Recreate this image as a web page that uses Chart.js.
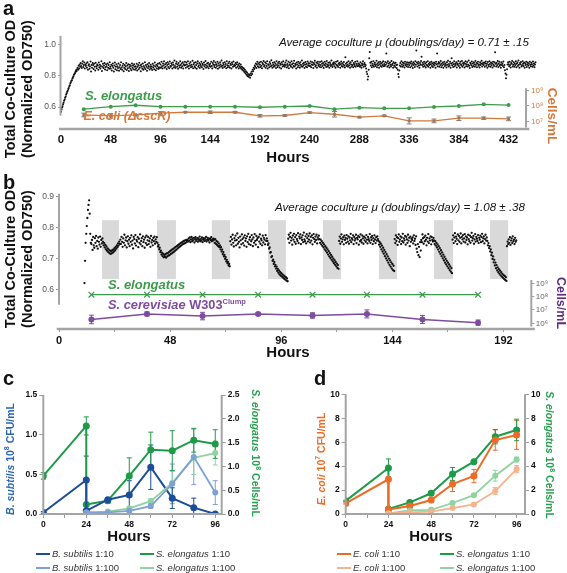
<!DOCTYPE html>
<html><head><meta charset="utf-8">
<script src="https://cdn.jsdelivr.net/npm/chart.js@4.4.1/dist/chart.umd.min.js"></script>
<style>
html,body{margin:0;padding:0;background:#fff;}
#wrap{position:relative;width:567px;height:573px;overflow:hidden;font-family:"Liberation Sans",Arial,Helvetica,sans-serif;color:#111;}
#wrap canvas{position:absolute;left:0;top:0;}
.t{position:absolute;white-space:nowrap;line-height:1;}
.rot{position:absolute;white-space:nowrap;text-align:center;font-weight:bold;}
.lgt{position:absolute;white-space:nowrap;font-size:9.5px;line-height:11px;color:#333;}
.sw{position:absolute;width:14px;height:2px;}
</style></head>
<body><div id="wrap">
<canvas id="cA1" width="567" height="573"></canvas>
<canvas id="cA2" width="567" height="573"></canvas>
<canvas id="cB1" width="567" height="573"></canvas>
<canvas id="cB2" width="567" height="573"></canvas>
<canvas id="cC" width="567" height="573"></canvas>
<canvas id="cD" width="567" height="573"></canvas>

<div class="t" style="left:3px;top:-2px;font-size:20px;font-weight:bold;">a</div>
<div class="t" style="left:3px;top:171.5px;font-size:20px;font-weight:bold;">b</div>
<div class="t" style="left:3px;top:368px;font-size:20px;font-weight:bold;">c</div>
<div class="t" style="left:314px;top:368px;font-size:20px;font-weight:bold;">d</div>

<div class="t" style="left:279px;top:36.2px;font-size:11.6px;font-style:italic;">Average coculture μ (doublings/day) = 0.71 ± .15</div>
<div class="t" style="left:275px;top:201.2px;font-size:11.6px;font-style:italic;">Average coculture μ (doublings/day) = 1.08 ± .38</div>

<div class="t" style="left:85px;top:88.5px;font-size:13px;font-style:italic;font-weight:bold;color:#3d9d4b;">S. elongatus</div>
<div class="t" style="left:83.5px;top:109.9px;font-size:12.5px;font-style:italic;font-weight:bold;color:#d4783b;">E. coli (ΔcscR)</div>
<div class="t" style="left:108px;top:277.5px;font-size:13px;font-style:italic;font-weight:bold;color:#3c9c4c;">S. elongatus</div>
<div class="t" style="left:108px;top:298.9px;font-size:12.8px;font-style:italic;font-weight:bold;color:#7e4c9f;">S. cerevisiae <span style="font-style:normal">W303</span><span style="font-style:normal;font-size:7.5px;position:relative;top:-5px;">Clump</span></div>

<div class="t" style="left:288px;top:148.8px;font-size:15px;font-weight:bold;transform:translateX(-50%);">Hours</div>
<div class="t" style="left:288px;top:343.8px;font-size:15px;font-weight:bold;transform:translateX(-50%);">Hours</div>
<div class="t" style="left:129px;top:528.3px;font-size:15px;font-weight:bold;transform:translateX(-50%);">Hours</div>
<div class="t" style="left:431px;top:528.3px;font-size:15px;font-weight:bold;transform:translateX(-50%);">Hours</div>

<div class="rot" style="left:18.5px;top:88.5px;transform:translate(-50%,-50%) rotate(-90deg);font-size:14.5px;line-height:17px;">Total Co-Culture OD<br>(Normalized OD750)</div>
<div class="rot" style="left:18.5px;top:258.5px;transform:translate(-50%,-50%) rotate(-90deg);font-size:14.5px;line-height:17px;">Total Co-Culture OD<br>(Normalized OD750)</div>
<div class="rot" style="left:551.5px;top:115.5px;transform:translate(-50%,-50%) rotate(90deg);font-size:13.5px;line-height:14px;color:#d4783b;">Cells/mL</div>
<div class="rot" style="left:560px;top:303px;transform:translate(-50%,-50%) rotate(90deg);font-size:12.5px;line-height:13px;color:#5b2d83;">Cells/mL</div>

<div class="rot" style="left:10px;top:459px;transform:translate(-50%,-50%) rotate(-90deg);font-size:10.5px;line-height:11px;color:#2b66b3;"><i>B. subtilis</i> 10<sup style="font-size:7px;line-height:0;">8</sup> CFU/mL</div>
<div class="rot" style="left:255px;top:453px;transform:translate(-50%,-50%) rotate(90deg);font-size:10.5px;line-height:11px;color:#27a04f;"><i>S. elongatus</i> 10<sup style="font-size:7px;line-height:0;">8</sup> Cells/mL</div>
<div class="rot" style="left:321px;top:458.5px;transform:translate(-50%,-50%) rotate(-90deg);font-size:10.5px;line-height:11px;color:#ec6b26;"><i>E. coli</i> 10<sup style="font-size:7px;line-height:0;">7</sup> CFU/mL</div>
<div class="rot" style="left:548.5px;top:455px;transform:translate(-50%,-50%) rotate(90deg);font-size:10.5px;line-height:11px;color:#27a04f;"><i>S. elongatus</i> 10<sup style="font-size:7px;line-height:0;">8</sup> Cells/mL</div>
</div>
<script>
// ===================== DATA =====================
// Panel a: co-culture OD750 (x1000); one row per day (24 h), readings every 0.5 h
const odStepA = 0.5, hoursPerRowA = 24;
const odA = [
[570,585,598,606,618,628,640,648,660,668,680,688,698,705,715,722,733,740,752,758,768,772,783,789,797,806,812,818,826,835,829,842,851,838,864,847,872,858,881,862,849,877,893,856,868,884,846,871],
[862,879,851,887,838,866,873,845,859,891,827,868,852,881,869,843,876,857,834,883,861,848,872,866,839,885,854,871,846,862,893,831,858,877,849,866,882,840,855,873,861,836,879,852,868,845,887,858],
[846,871,833,862,879,851,828,866,884,842,857,873,836,861,849,878,832,855,869,844,887,853,838,864,876,829,851,868,843,859,882,837,865,848,874,831,856,870,845,862,835,878,852,866,841,873,857,839],
[861,848,876,834,858,869,842,883,851,866,829,872,857,845,879,838,863,851,886,844,868,857,832,874,849,863,881,840,856,871,846,859,837,877,853,866,842,884,859,835,870,848,862,876,843,855,881,850],
[872,853,889,861,846,878,866,893,851,874,858,882,843,869,887,856,875,848,891,863,857,880,868,846,884,871,855,897,862,849,876,889,858,872,845,881,866,854,893,869,852,878,861,886,847,873,865,890],
[868,851,884,872,857,893,863,846,879,866,888,854,871,859,896,848,874,883,861,852,887,869,845,878,892,858,866,881,849,873,862,889,855,877,868,844,885,859,871,894,852,866,879,857,883,848,870,862],
[876,858,889,863,847,882,871,895,856,868,884,851,873,862,890,845,879,866,853,887,872,859,898,864,849,881,870,856,886,861,875,848,892,867,854,880,863,889,851,877,869,846,884,873,858,891,862,870],
[864,881,852,873,887,858,869,846,878,861,853,872,845,858,839,851,832,846,824,838,816,829,807,821,798,812,793,806,801,788,814,803,826,812,838,829,851,843,866,857,878,849,872,889,861,876,853,884],
[871,856,889,864,848,882,873,895,859,867,886,851,878,863,892,847,874,869,855,888,876,861,899,866,852,883,871,858,887,864,877,849,893,868,856,881,865,890,853,879,870,847,886,874,860,893,864,872],
[858,884,869,897,853,875,862,889,848,871,883,866,857,892,874,851,880,863,896,859,877,868,846,885,872,855,890,864,879,852,887,870,861,898,857,876,866,883,849,872,888,860,875,854,891,867,880,862],
[879,863,891,855,872,886,868,849,882,874,896,859,867,884,852,878,890,864,873,857,888,869,854,893,877,862,881,850,870,889,865,878,856,894,871,860,883,867,852,887,875,863,898,869,856,880,872,886],
[861,877,852,889,870,864,895,856,879,868,883,851,874,891,862,880,857,872,888,866,853,918,876,862,884,870,857,893,866,879,851,887,872,860,896,868,855,881,874,863,889,857,876,868,892,861,878,866],
[873,858,886,866,851,879,868,893,857,874,882,861,869,847,826,812,776,795,838,912,952,883,866,889,854,877,865,892,858,874,883,862,871,896,855,879,867,886,852,874,889,863,878,857,884,869,893,861],
[875,862,888,870,943,881,857,892,866,879,853,884,871,859,895,868,876,851,887,864,879,856,883,868,849,871,838,812,792,834,866,881,859,893,872,857,885,866,878,853,890,869,875,861,887,872,856,883],
[868,884,855,879,891,862,875,850,887,869,878,856,893,871,962,884,859,876,889,865,852,881,870,895,921,868,883,857,874,890,862,879,853,886,871,864,893,858,877,869,885,851,874,889,863,880,856,872],
[884,866,879,852,890,873,942,861,876,888,858,882,869,894,855,877,866,885,851,873,890,862,879,868,853,887,871,896,859,875,864,889,852,878,912,867,883,856,874,892,861,877,868,886,853,879,871,894],
[862,878,851,889,873,866,895,857,880,869,884,853,876,892,861,874,888,859,871,897,864,850,883,876,867,891,856,879,862,886,873,858,894,869,881,855,877,890,864,872,853,887,868,879,896,860,875,883],
[869,885,857,878,891,864,876,852,888,870,861,893,875,858,884,867,879,853,890,872,863,887,951,876,859,882,868,895,856,877,889,864,872,851,886,869,878,862,891,854,868,836,815,784,806,842,872,887],
[874,861,889,868,853,882,877,894,860,871,886,857,879,869,892,855,876,884,863,897,870,852,881,874,888,859,867,893,876,862,884,851,879,868,890,856,873,885,864,877,852,889,870,861,883,874,858,891,866,879,854,872,887]
];
const xTicksA = [0,48,96,144,192,240,288,336,384,432];
const yTicksA = [0.6,0.8,1.0];
const yLabelsA = ['0.6','0.8','1.0'];
const cellHoursA = [22,48,72,96,120,144,168,192,216,240,264,288,312,336,360,384,408,432];
const selA   = [6.2e7,9.1e7,1.12e8,9.1e7,9.1e7,9.1e7,9.1e7,8.3e7,9.1e7,1.0e8,6.2e7,7.8e7,7.1e7,7.1e7,8.7e7,1.0e8,1.29e8,1.15e8];
const ecoliA = [2.6e7,2.3e7,2.6e7,3.4e7,3.9e7,3.9e7,3.9e7,2.3e7,2.4e7,3.7e7,2.9e7,1.86e7,2.3e7,1.07e7,1.07e7,1.6e7,1.6e7,1.45e7];
const ecoliErrA = [0.12,0.15,0.05,0.10,0.03,0.08,0.05,0.08,0.05,0.05,0.18,0.05,0.03,0.20,0.12,0.15,0.08,0.12]; // decades
const cellTicksA = [1e7,1e8,1e9];
const cellLabelsA = ['10⁷','10⁸','10⁹'];

// Panel b: co-culture OD750 (x1000); segments [start hour, readings every 0.25 h]
const odStepB = 0.25;
const odB = [
[11,[622,694,752,781,806,832,858,874,889,846,781,752]],
[14,[748,761,729,771,744,736,767,752,774,741,758,733,769,755,746,772,739,761,750,766]],
[19,[755,744,751,737,745,731,740,726,734,722,730,719,727,716,725,718,728,720,731,724,735,728,739,733,744,738,750,743,756,749]],
[26.5,[762,748,771,755,739,766,752,778,744,760,769,737,757,773,749,762,741,768,755,776,746,759,734,771,764,750,777,743,761,756,770,738,765,752,779,747,758,767,741,773,754,762,736,769,751,775,745,760,771,748,757,766,739,774,753,761,744,768,757,772,749,763,755,770]],
[42.5,[752,740,745,731,736,722,727,714,720,709,716,705,713,707,715,704,718,708,719,711,722,712,725,716,728,718,731,721,733,724,736,727,739,730,742,734,745,737,748,740,751,743,753,746,756,749,758,750,760,752,761,755]],
[55.5,[761,756,766,759,769,754,763,771,757,765,760,768,753,764,770,758,762,767,755,766,761,772,757,764,759,769,754,763,767,758,765,760,771,756,762,768,759,764,753,766,761,770,757,763,759,765]],
[67,[762,752,764,749,758,745,755,741,750,738,744,731,738,724,730,715,722,708,713,700,706,692,697,686,690,679,684,676]],
[74,[757,771,746,763,778,752,740,767,759,775,744,761,782,749,768,755,737,772,760,747,779,764,751,769,743,776,758,766,739,773,754,781,748,762,770,745,757,777,763,741,769,752,780,758,746,774,761,767,738,771,756,779,749,765,760,744,775,753,768,762,747,777,758,766]],
[90,[758,745,750,733,737,720,722,706,709,694,698,684,690,676,681,669,675,661,668,655,663,650,658,646,654,643,650,640,647,636,644,633,641,630,637,628]],
[99,[765,778,752,771,784,759,768,746,775,762,781,755,770,749,777,764,758,783,751,772,766,779,748,769,761,776,754,785,763,757,773,750,780,767,756,774,762,782,753,771,759,776,747,768,780,764,755,772,761,778,750,769,763,775]],
[112.5,[764,752,762,747,757,742,752,737,747,731,741,726,736,720,731,714,725,708,719,703,713,697,707,692,701,686,696,681,690,676,685,671,680,668]],
[121,[758,772,749,766,779,755,763,770,747,775,761,768,752,777,765,756,773,749,769,760,781,754,767,762,776,748,771,759,765,778,751,768,763,774,746,770,757,779,761,753,775,766,749,772,760,768,755,777,762,750,771,764,758,780,752,769,761,774,748,767,757,776,763,751,770,759,773,764]],
[138,[758,746,754,739,749,731,743,724,736,717,729,709,722,702,715,695,708,688,701,681,695,675,689,669,684,664,678,661]],
[145,[764,751,776,758,770,745,767,779,755,762,773,748,769,757,781,753,766,760,774,746,771,763,752,778,759,768,741,772,755,765,761,769,750,776,758,765,745,773,733,722,748,712,739,706,754,727,761,754,779,767,749,770,757,775,762,744,768,756,780,751,766,759,773,747,770,761,756,768]],
[162,[760,748,757,743,752,737,747,730,741,723,735,716,728,709,721,702,714,695,707,688,700,682,694,676,688,670,682,664,676,659,670,654]],
[170,[762,776,751,769,783,757,772,765,748,779,760,774,755,768,782,750,771,763,777,756,766,780,753,773,761,769,747,778,764,757,775,752,770,784,759,767,774,749,763,780,756,771,765,758,777,751,768,762,775,754,770,781,757,766,773,750,764,778,759,769]],
[185,[758,744,751,735,741,724,731,712,720,700,708,689,697,679,688,670,680,663,673,657,667,652,662,647,657,643,652,639,648,635,645,632,641,629]],
[193.5,[741,756,748,763,752,770,745,759,766,751,773,757,762,748,768,755,760]]
];
const darkStartB = [18.6,42.3,66.0,90.3,114.0,138.2,162.0,186.2];
const darkEndB   = [25.9,50.5,73.9,98.0,121.8,146.0,170.2,194.0];
const darkLowB = 0.635, darkHighB = 0.825;
const xTicksB = [0,24,48,72,96,120,144,168,192];
const xLabelsB = ['0','','48','','96','','144','','192'];
const yTicksB = [0.6,0.7,0.8,0.9];
const yLabelsB = ['0.6','0.7','0.8','0.9'];
const cellHoursB = [14,38,62,86,109.5,133,157,181];
const selB   = [1.4e8,1.4e8,1.4e8,1.4e8,1.4e8,1.4e8,1.4e8,1.4e8];
const yeastB = [1.95e6,5.1e6,3.5e6,5.1e6,3.9e6,5.1e6,1.95e6,1.12e6];
const yeastErrB = [0.32,0.15,0.28,0.10,0.20,0.30,0.30,0.20]; // decades
const cellTicksB = [1e6,1e7,1e8,1e9];
const cellLabelsB = ['10⁶','10⁷','10⁸','10⁹'];

// Panel c
const hoursC10  = [0,24,24,36,48,60,72,84,96];
const hoursC100 = [24,36,48,60,72,84,96];
const bsub10     = [0.02,0.43,0.04,0.18,0.24,0.59,0.20,0.08,0.00];
const bsub10Err  = [0.01,0.30,0.02,0.02,0.18,0.28,0.13,0.12,0.00];
const bsub100    = [0.02,0.02,0.04,0.10,0.38,0.72,0.27];
const bsub100Err = [0,0.01,0.02,0.03,0.25,0.35,0.15];
const selC10     = [0.80,1.85,0.20,0.28,0.80,1.35,1.33,1.55,1.47];
const selC10Err  = [0.07,0.19,0.02,0.05,0.38,0.37,0.42,0.25,0.30];
const selC100    = [0.03,0.05,0.12,0.27,0.65,1.18,1.28];
const selC100Err = [0,0.01,0.03,0.05,0.25,0.35,0.25];
const xTicksCD = [0,12,24,36,48,60,72,84,96];
const xLabelsCD = ['0','','24','','48','','72','','96'];
const yTicksC = [0,0.5,1.0,1.5];
const yLabelsC = ['0.0','0.5','1.0','1.5'];
const y2TicksC = [0,0.5,1.0,1.5,2.0,2.5];
const y2LabelsC = ['0.0','0.5','1.0','1.5','2.0','2.5'];
const namesC = ['B. subtilis','S. elongatus','B. subtilis','S. elongatus'];
const ratiosC = ['1:10','1:10','1:100','1:100'];

// Panel d
const hoursD10  = [0,24,24,36,48,60,72,84,96];
const hoursD100 = [24,36,48,60,72,84,96];
const ecoli10     = [0.88,2.90,0.38,0.67,1.17,2.50,3.17,6.18,6.60];
const ecoli10Err  = [0.05,0,0,0.05,0.08,0.62,0.55,0.85,1.20];
const ecoli100    = [0.05,0.13,0.20,0.50,0.80,1.92,3.75];
const ecoli100Err = [0,0.03,0.04,0.08,0.10,0.30,0.30];
const selD10      = [1.10,3.85,0.42,0.97,1.73,3.34,4.37,6.46,7.02];
const selD10Err   = [0.05,0.75,0,0.05,0.08,0.55,0.10,0.60,0.90];
const selD100     = [0.05,0.30,0.35,0.92,1.57,3.20,4.55];
const selD100Err  = [0,0.05,0.05,0.08,0.10,0.45,0.20];
const yTicksD = [0,2,4,6,8,10];
const yLabelsD = ['0','2','4','6','8','10'];
const namesD = ['E. coli','S. elongatus','E. coli','S. elongatus'];
const ratiosD = ['1:10','1:10','1:100','1:100'];

// ===================== STYLE =====================
const FONT = '"Liberation Sans", Arial, Helvetica, sans-serif';
const W = 567, H = 573;
const AXIS = '#a4a4a4';
const COL = {
  greenA:'#3d9d4b', orangeA:'#d4783b', errA:'#8c7a6e',
  greenB:'#3c9c4c', purple:'#7e4c9f',
  blueD:'#1c4d98', blueL:'#7ea0d2', greenD:'#1e9a49', greenL:'#8ed3a0',
  orangeD:'#ec6b26', orangeL:'#f5b38e'
};
Chart.defaults.font.family = FONT;

function seg(ctx, x1, y1, x2, y2, w, col) {
  ctx.save(); ctx.strokeStyle = col; ctx.lineWidth = w; ctx.beginPath();
  ctx.moveTo(x1, y1); ctx.lineTo(x2, y2); ctx.stroke(); ctx.restore();
}
function errorBars(chart, di, errs, scaleId, isLog, color) {
  const meta = chart.getDatasetMeta(di), ys = chart.scales[scaleId], ctx = chart.ctx;
  const data = chart.data.datasets[di].data;
  ctx.save(); ctx.strokeStyle = color; ctx.lineWidth = 1; ctx.beginPath();
  meta.data.forEach((pt, i) => {
    const e = errs[i]; if (!e) return;
    const v = data[i].y;
    const hi = isLog ? v * Math.pow(10, e) : v + e;
    const lo = isLog ? v / Math.pow(10, e) : Math.max(v - e, ys.min);
    const y1 = ys.getPixelForValue(hi), y2 = ys.getPixelForValue(lo), x = pt.x;
    ctx.moveTo(x, y1); ctx.lineTo(x, y2);
    ctx.moveTo(x - 2.5, y1); ctx.lineTo(x + 2.5, y1);
    ctx.moveTo(x - 2.5, y2); ctx.lineTo(x + 2.5, y2);
  });
  ctx.stroke(); ctx.restore();
}
const fixed = vals => s => { s.ticks = vals.map(v => ({value: v})); };
function tk(size, weight, color, padding, labels) {
  return {font:{size, weight, family:FONT}, color, padding, autoSkip:false, maxRotation:0, minRotation:0,
          callback: (v, i) => labels[i]};
}
const marks = (len) => ({display:true, drawOnChartArea:false, drawTicks:true, tickLength:len, color:'#9a9a9a', lineWidth:1});
const noGrid = {display:false, drawTicks:false};

function build(id, area, datasets, scales, hooks) {
  const pad = {left: area.L, top: area.T, right: W - area.R, bottom: H - area.B};
  Object.values(scales).forEach(s => {
    s.bounds = 'data';
    s.border = {display:false};
    if (s.display === false) return;
    if (s.position === 'left')   { pad.left = 0;   s.afterFit = sc => { sc.width = area.L; }; }
    if (s.position === 'right')  { pad.right = 0;  s.afterFit = sc => { sc.width = W - area.R; }; }
    if (s.position === 'bottom') { pad.bottom = 0; s.afterFit = sc => { sc.height = H - area.B; }; }
  });
  return new Chart(document.getElementById(id), {
    type: 'scatter',
    data: {datasets},
    options: {responsive:false, animation:false, events:[], layout:{padding:pad}, scales,
              plugins:{legend:{display:false}, tooltip:{enabled:false}}},
    plugins: [{id:'deco_' + id,
      beforeDatasetsDraw(c){ if (hooks.before) hooks.before(c); },
      afterDatasetsDraw(c){ if (hooks.after) hooks.after(c); }}]
  });
}
const pts = (xs, ys) => xs.map((x, i) => ({x, y: ys[i]}));
const series = (xs, ys, color, extra) => Object.assign({
  data: pts(xs, ys), showLine:true, borderColor:color, borderWidth:2, pointRadius:3.5,
  pointBackgroundColor:color, pointBorderColor:color, pointBorderWidth:0}, extra || {});
const dots = (list, r) => ({data:list, showLine:false, pointRadius:r, pointBackgroundColor:'#111', pointBorderWidth:0});

// flatten the OD readings into {x: hour, y: OD}
const odPointsA = [];
odA.forEach((row, r) => row.forEach((v, i) => odPointsA.push({x: r * hoursPerRowA + i * odStepA, y: v / 1000})));
const odPointsB = [];
odB.forEach(([start, vals]) => vals.forEach((v, i) => odPointsB.push({x: start + i * odStepB, y: v / 1000})));

// ===================== PANEL A =====================
build('cA1', {L:61, T:28.8, R:537.6, B:129},
  [dots(odPointsA, 1.0)],
  { x:{type:'linear', position:'bottom', min:0, max:460, afterBuildTicks:fixed(xTicksA), grid:noGrid,
       ticks:tk(11.5,'bold','#111',4, xTicksA.map(String))},
    y:{type:'linear', position:'left', min:0.46, max:1.10, afterBuildTicks:fixed(yTicksA), grid:marks(3),
       ticks:tk(8.5,'normal','#555',2, yLabelsA)} },
  { after(c){ const x = c.scales.x, y = c.scales.y, a = c.chartArea;
      seg(c.ctx, x.getPixelForValue(-2), a.bottom, x.getPixelForValue(452), a.bottom, 2.5, AXIS);
      seg(c.ctx, a.left - 0.5, y.getPixelForValue(1.055), a.left - 0.5, y.getPixelForValue(0.545), 2, AXIS); } });

build('cA2', {L:61, T:87.6, R:526, B:129},
  [ series(cellHoursA, selA, COL.greenA, {borderWidth:1.3, pointRadius:2}),
    series(cellHoursA, ecoliA, COL.orangeA, {borderWidth:1.3, pointRadius:2, pointStyle:'rect', pointBackgroundColor:COL.errA, pointBorderColor:COL.errA}) ],
  { x:{type:'linear', display:false, min:0, max:448.8},
    y:{type:'logarithmic', position:'right', min:Math.pow(10,6.5), max:Math.pow(10,9.2), afterBuildTicks:fixed(cellTicksA),
       grid:marks(3), ticks:tk(8,'normal',COL.orangeA,2, cellLabelsA)} },
  { before(c){ errorBars(c, 1, ecoliErrA, 'y', true, COL.errA); },
    after(c){ const y = c.scales.y, a = c.chartArea;
      seg(c.ctx, a.right, y.getPixelForValue(Math.pow(10,9.15)), a.right, y.getPixelForValue(Math.pow(10,6.6)), 2, AXIS); } });

// ===================== PANEL B =====================
build('cB1', {L:59, T:190.7, R:531.3, B:329},
  [dots(odPointsB, 1.15)],
  { x:{type:'linear', position:'bottom', min:0, max:204, afterBuildTicks:fixed(xTicksB), grid:marks(3),
       ticks:tk(11,'bold','#111',2, xLabelsB)},
    y:{type:'linear', position:'left', min:0.474, max:0.92, afterBuildTicks:fixed(yTicksB), grid:marks(3),
       ticks:tk(8.5,'normal','#555',2, yLabelsB)} },
  { before(c){ const x = c.scales.x, y = c.scales.y, ctx = c.ctx;
      ctx.save(); ctx.fillStyle = '#d9d9d9';
      darkStartB.forEach((s, i) => {
        const x1 = x.getPixelForValue(s), x2 = x.getPixelForValue(darkEndB[i]);
        const y1 = y.getPixelForValue(darkHighB), y2 = y.getPixelForValue(darkLowB);
        ctx.fillRect(x1, y1, x2 - x1, y2 - y1);
      });
      ctx.restore(); },
    after(c){ const x = c.scales.x, y = c.scales.y, a = c.chartArea;
      seg(c.ctx, x.getPixelForValue(-1), a.bottom, x.getPixelForValue(205.5), a.bottom, 2.5, AXIS);
      seg(c.ctx, a.left, y.getPixelForValue(0.91), a.left, y.getPixelForValue(0.552), 2, AXIS); } });

build('cB2', {L:59, T:279.3, R:531.3, B:329},
  [ series(cellHoursB, selB, COL.greenB, {borderWidth:1.2, pointStyle:'crossRot', pointRadius:4, pointBorderWidth:1.2}),
    series(cellHoursB, yeastB, COL.purple, {borderWidth:1.5, pointRadius:3}) ],
  { x:{type:'linear', display:false, min:0, max:204},
    y:{type:'logarithmic', position:'right', min:Math.pow(10,5.575), max:Math.pow(10,9.3), afterBuildTicks:fixed(cellTicksB),
       grid:marks(3), ticks:tk(8,'normal','#666',1.5, cellLabelsB)} },
  { before(c){ errorBars(c, 1, yeastErrB, 'y', true, COL.purple); },
    after(c){ const y = c.scales.y, a = c.chartArea;
      seg(c.ctx, a.right, y.getPixelForValue(Math.pow(10,9.25)), a.right, y.getPixelForValue(Math.pow(10,5.75)), 2, AXIS); } });

// ===================== PANELS C & D =====================
function cdAxes(c) {
  const a = c.chartArea;
  seg(c.ctx, a.left, a.top, a.left, a.bottom + 1, 2, AXIS);
  seg(c.ctx, a.right, a.top, a.right, a.bottom + 1, 2, AXIS);
  seg(c.ctx, a.left - 1, a.bottom, a.right + 1, a.bottom, 2, AXIS);
}
build('cC', {L:43.3, T:395, R:221.7, B:514},
  [ series(hoursC100, bsub100, COL.blueL, {pointRadius:3, borderWidth:1.8}),
    series(hoursC100, selC100, COL.greenL, {yAxisID:'y2', pointRadius:3, borderWidth:1.8}),
    series(hoursC10, bsub10, COL.blueD),
    series(hoursC10, selC10, COL.greenD, {yAxisID:'y2'}) ],
  { x:{type:'linear', position:'bottom', min:0, max:99.6, afterBuildTicks:fixed(xTicksCD), grid:marks(4),
       ticks:tk(8.5,'bold','#111',1.5, xLabelsCD)},
    y:{type:'linear', position:'left', min:0, max:1.5, afterBuildTicks:fixed(yTicksC), grid:marks(4),
       ticks:tk(8.5,'bold','#111',2, yLabelsC)},
    y2:{type:'linear', position:'right', min:0, max:2.5, afterBuildTicks:fixed(y2TicksC), grid:marks(4),
       ticks:tk(8.5,'bold','#111',2, y2LabelsC)} },
  { before(c){
      errorBars(c, 0, bsub100Err, 'y', false, COL.blueL);
      errorBars(c, 1, selC100Err, 'y2', false, COL.greenL);
      errorBars(c, 2, bsub10Err, 'y', false, COL.blueD);
      errorBars(c, 3, selC10Err, 'y2', false, COL.greenD); },
    after: cdAxes });

build('cD', {L:345.7, T:394.3, R:525, B:514},
  [ series(hoursD100, ecoli100, COL.orangeL, {pointRadius:3, borderWidth:1.8}),
    series(hoursD100, selD100, COL.greenL, {yAxisID:'y2', pointRadius:3, borderWidth:1.8}),
    series(hoursD10, ecoli10, COL.orangeD),
    series(hoursD10, selD10, COL.greenD, {yAxisID:'y2'}) ],
  { x:{type:'linear', position:'bottom', min:0, max:100.7, afterBuildTicks:fixed(xTicksCD), grid:marks(4),
       ticks:tk(8.5,'bold','#111',1.5, xLabelsCD)},
    y:{type:'linear', position:'left', min:0, max:10, afterBuildTicks:fixed(yTicksD), grid:marks(4),
       ticks:tk(8.5,'bold','#111',2, yLabelsD)},
    y2:{type:'linear', position:'right', min:0, max:10, afterBuildTicks:fixed(yTicksD), grid:marks(4),
       ticks:tk(8.5,'bold','#111',2, yLabelsD)} },
  { before(c){
      errorBars(c, 0, ecoli100Err, 'y', false, COL.orangeL);
      errorBars(c, 1, selD100Err, 'y2', false, COL.greenL);
      errorBars(c, 2, ecoli10Err, 'y', false, COL.orangeD);
      errorBars(c, 3, selD10Err, 'y2', false, COL.greenD); },
    after: cdAxes });

// ===================== LEGENDS (HTML, italic species names) =====================
function legend(names, ratios, colors, cols) {
  const wrap = document.getElementById('wrap');
  const rows = [553.5, 567.5];
  names.forEach((n, i) => {
    const col = cols[i % 2], row = rows[Math.floor(i / 2)];
    const sw = document.createElement('div'); sw.className = 'sw';
    sw.style.left = col[0] + 'px'; sw.style.top = (row - 1) + 'px'; sw.style.background = colors[i];
    const tx = document.createElement('div'); tx.className = 'lgt';
    tx.style.left = col[1] + 'px'; tx.style.top = (row - 5.5) + 'px';
    const it = document.createElement('i'); it.textContent = n;
    tx.appendChild(it); tx.appendChild(document.createTextNode(' ' + ratios[i]));
    wrap.appendChild(sw); wrap.appendChild(tx);
  });
}
legend(namesC, ratiosC, [COL.blueD, COL.greenD, COL.blueL, COL.greenL], [[36,52],[140,156]]);
legend(namesD, ratiosD, [COL.orangeD, COL.greenD, COL.orangeL, COL.greenL], [[337,353],[440,456]]);
</script>
</body></html>
